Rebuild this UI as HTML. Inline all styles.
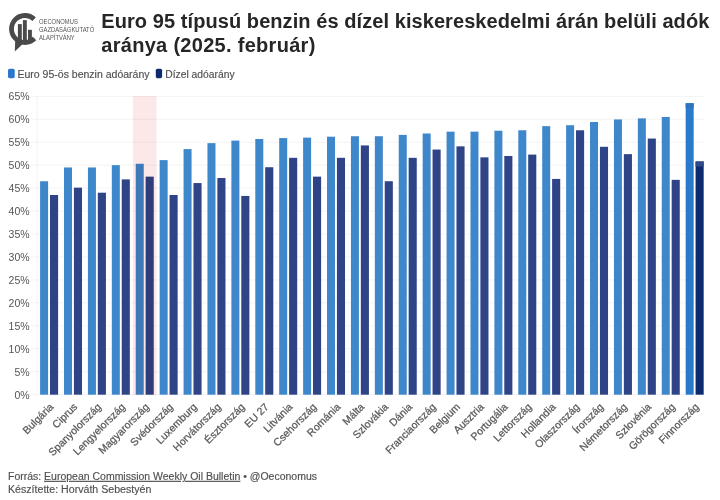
<!DOCTYPE html><html><head><meta charset="utf-8"><style>html,body{margin:0;padding:0;background:#fff;width:720px;height:500px;overflow:hidden}svg{display:block}text{font-family:"Liberation Sans",sans-serif}</style></head><body>
<svg width="720" height="500" viewBox="0 0 720 500">
<rect width="720" height="500" fill="#fff"/>
<g fill="#4a4a4a">
<path d="M35.84,17.37 A15.9,15.9 0 1 0 36.24,40.24 L32.85,36.85 A11.1,11.1 0 1 1 32.57,20.88 Z"/>
<path d="M15.2,40.5 L14.8,51.4 L22.5,44.2 Z"/>
<rect x="17.9" y="24.1" width="3.9" height="16.5"/>
<rect x="22.9" y="20.1" width="3.9" height="20.5"/>
<rect x="28" y="29.8" width="3.9" height="10.8"/>
</g>
<g fill="#555" font-size="6.3">
<text x="39" y="23.6" textLength="38.8" lengthAdjust="spacingAndGlyphs">OECONOMUS</text>
<text x="39" y="31.8" textLength="55.2" lengthAdjust="spacingAndGlyphs">GAZDASÁGKUTATÓ</text>
<text x="39" y="40" textLength="35.7" lengthAdjust="spacingAndGlyphs">ALAPÍTVÁNY</text>
</g>
<g fill="#262626" font-size="20" font-weight="bold">
<text x="101.3" y="27.9" textLength="608" lengthAdjust="spacing">Euro 95 típusú benzin és dízel kiskereskedelmi árán belüli adók</text>
<text x="101.3" y="51.6" textLength="214" lengthAdjust="spacing">aránya (2025. február)</text>
</g>
<rect x="8" y="68.7" width="6.7" height="9.5" rx="1.6" fill="#2a78cc"/>
<rect x="155.8" y="68.7" width="6.3" height="9.5" rx="1.6" fill="#0e2a6e"/>
<g fill="#505050" stroke="#505050" stroke-width="0.15" font-size="10">
<text x="17.5" y="77.6" textLength="132" lengthAdjust="spacingAndGlyphs">Euro 95-ös benzin adóarány</text>
<text x="165.2" y="77.6" textLength="69.4" lengthAdjust="spacingAndGlyphs">Dízel adóarány</text>
</g>
<g stroke="#f3f3f3" stroke-width="1">
<line x1="31" y1="394.70" x2="704" y2="394.70"/>
<line x1="31" y1="371.75" x2="704" y2="371.75"/>
<line x1="31" y1="348.79" x2="704" y2="348.79"/>
<line x1="31" y1="325.84" x2="704" y2="325.84"/>
<line x1="31" y1="302.88" x2="704" y2="302.88"/>
<line x1="31" y1="279.93" x2="704" y2="279.93"/>
<line x1="31" y1="256.98" x2="704" y2="256.98"/>
<line x1="31" y1="234.02" x2="704" y2="234.02"/>
<line x1="31" y1="211.07" x2="704" y2="211.07"/>
<line x1="31" y1="188.12" x2="704" y2="188.12"/>
<line x1="31" y1="165.16" x2="704" y2="165.16"/>
<line x1="31" y1="142.21" x2="704" y2="142.21"/>
<line x1="31" y1="119.25" x2="704" y2="119.25"/>
<line x1="31" y1="96.30" x2="704" y2="96.30"/>
<line x1="37.2" y1="96.30" x2="37.2" y2="394.70"/>
</g>
<g fill="#555" font-size="10.5" text-anchor="end">
<text x="29.6" y="398.60">0%</text>
<text x="29.6" y="375.65">5%</text>
<text x="29.6" y="352.69">10%</text>
<text x="29.6" y="329.74">15%</text>
<text x="29.6" y="306.78">20%</text>
<text x="29.6" y="283.83">25%</text>
<text x="29.6" y="260.88">30%</text>
<text x="29.6" y="237.92">35%</text>
<text x="29.6" y="214.97">40%</text>
<text x="29.6" y="192.02">45%</text>
<text x="29.6" y="169.06">50%</text>
<text x="29.6" y="146.11">55%</text>
<text x="29.6" y="123.15">60%</text>
<text x="29.6" y="100.20">65%</text>
</g>
<rect x="40.10" y="181.23" width="8.0" height="213.47" fill="#3e87cb"/>
<rect x="50.00" y="195.00" width="8.1" height="199.70" fill="#2f4486"/>
<rect x="64.01" y="167.46" width="8.0" height="227.24" fill="#3e87cb"/>
<rect x="73.91" y="187.66" width="8.1" height="207.04" fill="#2f4486"/>
<rect x="87.92" y="167.46" width="8.0" height="227.24" fill="#3e87cb"/>
<rect x="97.82" y="192.71" width="8.1" height="201.99" fill="#2f4486"/>
<rect x="111.83" y="165.16" width="8.0" height="229.54" fill="#3e87cb"/>
<rect x="121.73" y="179.39" width="8.1" height="215.31" fill="#2f4486"/>
<rect x="135.74" y="163.78" width="8.0" height="230.92" fill="#3e87cb"/>
<rect x="145.64" y="176.64" width="8.1" height="218.06" fill="#2f4486"/>
<rect x="159.65" y="160.11" width="8.0" height="234.59" fill="#3e87cb"/>
<rect x="169.55" y="195.00" width="8.1" height="199.70" fill="#2f4486"/>
<rect x="183.56" y="149.09" width="8.0" height="245.61" fill="#3e87cb"/>
<rect x="193.46" y="183.07" width="8.1" height="211.63" fill="#2f4486"/>
<rect x="207.47" y="143.13" width="8.0" height="251.57" fill="#3e87cb"/>
<rect x="217.37" y="178.02" width="8.1" height="216.68" fill="#2f4486"/>
<rect x="231.38" y="140.60" width="8.0" height="254.10" fill="#3e87cb"/>
<rect x="241.28" y="195.92" width="8.1" height="198.78" fill="#2f4486"/>
<rect x="255.29" y="138.99" width="8.0" height="255.71" fill="#3e87cb"/>
<rect x="265.19" y="167.23" width="8.1" height="227.47" fill="#2f4486"/>
<rect x="279.20" y="138.08" width="8.0" height="256.62" fill="#3e87cb"/>
<rect x="289.10" y="157.82" width="8.1" height="236.88" fill="#2f4486"/>
<rect x="303.11" y="137.62" width="8.0" height="257.08" fill="#3e87cb"/>
<rect x="313.01" y="176.64" width="8.1" height="218.06" fill="#2f4486"/>
<rect x="327.02" y="136.70" width="8.0" height="258.00" fill="#3e87cb"/>
<rect x="336.92" y="157.82" width="8.1" height="236.88" fill="#2f4486"/>
<rect x="350.93" y="136.24" width="8.0" height="258.46" fill="#3e87cb"/>
<rect x="360.83" y="145.42" width="8.1" height="249.28" fill="#2f4486"/>
<rect x="374.84" y="136.24" width="8.0" height="258.46" fill="#3e87cb"/>
<rect x="384.74" y="181.23" width="8.1" height="213.47" fill="#2f4486"/>
<rect x="398.75" y="134.86" width="8.0" height="259.84" fill="#3e87cb"/>
<rect x="408.65" y="157.82" width="8.1" height="236.88" fill="#2f4486"/>
<rect x="422.66" y="133.49" width="8.0" height="261.21" fill="#3e87cb"/>
<rect x="432.56" y="149.55" width="8.1" height="245.15" fill="#2f4486"/>
<rect x="446.57" y="131.65" width="8.0" height="263.05" fill="#3e87cb"/>
<rect x="456.47" y="146.34" width="8.1" height="248.36" fill="#2f4486"/>
<rect x="470.48" y="131.65" width="8.0" height="263.05" fill="#3e87cb"/>
<rect x="480.38" y="157.36" width="8.1" height="237.34" fill="#2f4486"/>
<rect x="494.39" y="130.73" width="8.0" height="263.97" fill="#3e87cb"/>
<rect x="504.29" y="155.98" width="8.1" height="238.72" fill="#2f4486"/>
<rect x="518.30" y="130.27" width="8.0" height="264.43" fill="#3e87cb"/>
<rect x="528.20" y="154.60" width="8.1" height="240.10" fill="#2f4486"/>
<rect x="542.21" y="126.14" width="8.0" height="268.56" fill="#3e87cb"/>
<rect x="552.11" y="178.93" width="8.1" height="215.77" fill="#2f4486"/>
<rect x="566.12" y="125.22" width="8.0" height="269.48" fill="#3e87cb"/>
<rect x="576.02" y="130.27" width="8.1" height="264.43" fill="#2f4486"/>
<rect x="590.03" y="122.01" width="8.0" height="272.69" fill="#3e87cb"/>
<rect x="599.93" y="146.80" width="8.1" height="247.90" fill="#2f4486"/>
<rect x="613.94" y="119.44" width="8.0" height="275.26" fill="#3e87cb"/>
<rect x="623.84" y="154.14" width="8.1" height="240.56" fill="#2f4486"/>
<rect x="637.85" y="118.34" width="8.0" height="276.36" fill="#3e87cb"/>
<rect x="647.75" y="138.54" width="8.1" height="256.16" fill="#2f4486"/>
<rect x="661.76" y="116.96" width="8.0" height="277.74" fill="#3e87cb"/>
<rect x="671.66" y="179.85" width="8.1" height="214.85" fill="#2f4486"/>
<rect x="685.67" y="103.19" width="8.0" height="291.51" fill="#2a7acc"/>
<rect x="685.67" y="103.19" width="8.0" height="4.5" fill="#3272bd"/>
<rect x="695.57" y="161.49" width="8.1" height="233.21" fill="#0d2a6e"/>
<rect x="695.57" y="161.49" width="8.1" height="5" fill="#2f4a88"/>
<rect x="132.9" y="96.2" width="23.6" height="298.70" fill="rgb(252,231,233)" style="mix-blend-mode:multiply"/>
<g fill="#585858" stroke="#585858" stroke-width="0.25" font-size="10.5" text-anchor="end">
<text transform="translate(54.16,407.50) rotate(-45)" x="0" y="0">Bulgária</text>
<text transform="translate(78.07,407.50) rotate(-45)" x="0" y="0">Ciprus</text>
<text transform="translate(101.98,407.50) rotate(-45)" x="0" y="0">Spanyolország</text>
<text transform="translate(125.89,407.50) rotate(-45)" x="0" y="0">Lengyelország</text>
<text transform="translate(149.79,407.50) rotate(-45)" x="0" y="0">Magyarország</text>
<text transform="translate(173.70,407.50) rotate(-45)" x="0" y="0">Svédország</text>
<text transform="translate(197.61,407.50) rotate(-45)" x="0" y="0">Luxemburg</text>
<text transform="translate(221.52,407.50) rotate(-45)" x="0" y="0">Horvátország</text>
<text transform="translate(245.44,407.50) rotate(-45)" x="0" y="0">Észtország</text>
<text transform="translate(269.34,407.50) rotate(-45)" x="0" y="0">EU 27</text>
<text transform="translate(293.25,407.50) rotate(-45)" x="0" y="0">Litvánia</text>
<text transform="translate(317.16,407.50) rotate(-45)" x="0" y="0">Csehország</text>
<text transform="translate(341.07,407.50) rotate(-45)" x="0" y="0">Románia</text>
<text transform="translate(364.99,407.50) rotate(-45)" x="0" y="0">Málta</text>
<text transform="translate(388.89,407.50) rotate(-45)" x="0" y="0">Szlovákia</text>
<text transform="translate(412.81,407.50) rotate(-45)" x="0" y="0">Dánia</text>
<text transform="translate(436.71,407.50) rotate(-45)" x="0" y="0">Franciaország</text>
<text transform="translate(460.62,407.50) rotate(-45)" x="0" y="0">Belgium</text>
<text transform="translate(484.53,407.50) rotate(-45)" x="0" y="0">Ausztria</text>
<text transform="translate(508.44,407.50) rotate(-45)" x="0" y="0">Portugália</text>
<text transform="translate(532.36,407.50) rotate(-45)" x="0" y="0">Lettország</text>
<text transform="translate(556.27,407.50) rotate(-45)" x="0" y="0">Hollandia</text>
<text transform="translate(580.18,407.50) rotate(-45)" x="0" y="0">Olaszország</text>
<text transform="translate(604.09,407.50) rotate(-45)" x="0" y="0">Írország</text>
<text transform="translate(628.00,407.50) rotate(-45)" x="0" y="0">Németország</text>
<text transform="translate(651.91,407.50) rotate(-45)" x="0" y="0">Szlovénia</text>
<text transform="translate(675.82,407.50) rotate(-45)" x="0" y="0">Görögország</text>
<text transform="translate(699.73,407.50) rotate(-45)" x="0" y="0">Finnország</text>
</g>
<g fill="#505050" stroke="#505050" stroke-width="0.15" font-size="10">
<text x="8" y="479.9" textLength="309" lengthAdjust="spacingAndGlyphs">Forrás: <tspan text-decoration="underline">European Commission Weekly Oil Bulletin</tspan> • @Oeconomus</text>
<text x="8" y="492.7" textLength="143.4" lengthAdjust="spacingAndGlyphs">Készítette: Horváth Sebestyén</text>
</g>
</svg></body></html>
